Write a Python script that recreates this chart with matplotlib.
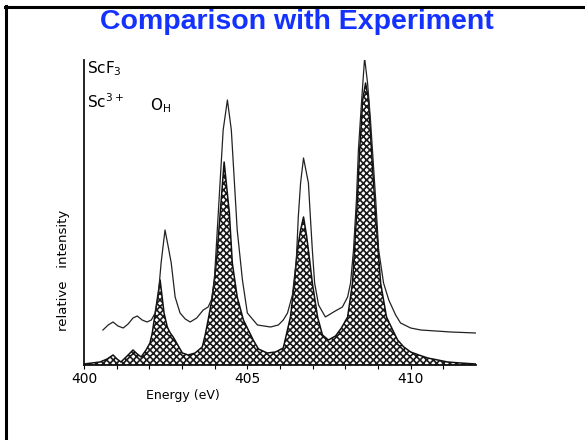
import matplotlib
matplotlib.use("Agg")
import matplotlib.pyplot as plt
from matplotlib.lines import Line2D

# ---- data (energy in eV, relative intensity in arbitrary units) ----
exp_energy = [400.58, 400.74, 400.89, 401.04, 401.20, 401.35, 401.50, 401.63, 401.78, 401.93,
              402.06, 402.18, 402.27, 402.36, 402.48, 402.58, 402.67, 402.79, 402.94, 403.10,
              403.25, 403.45, 403.65, 403.80, 403.90, 403.99, 404.08, 404.17, 404.26, 404.39,
              404.51, 404.60, 404.69, 404.85, 405.00, 405.31, 405.71, 405.95, 406.10, 406.23,
              406.38, 406.50, 406.56, 406.63, 406.72, 406.87, 406.93, 406.99, 407.06, 407.18,
              407.39, 407.64, 407.91, 408.07, 408.16, 408.25, 408.34, 408.40, 408.50, 408.59,
              408.68, 408.77, 408.83, 408.93, 409.02, 409.17, 409.33, 409.54, 409.69, 410.00,
              410.31, 410.77, 411.23, 411.99]
exp_intensity = [35, 40, 43, 39, 37, 41, 47, 49, 45, 43,
                 45, 52, 68, 102, 135, 118, 102, 68, 52, 46,
                 43, 47, 55, 58, 65, 85, 135, 185, 235, 265,
                 235, 185, 135, 85, 52, 40, 38, 40, 45, 52,
                 70, 105, 148, 182, 207, 182, 148, 115, 82, 60,
                 48, 53, 58, 68, 82, 115, 165, 215, 265, 307,
                 282, 245, 215, 165, 115, 82, 65, 50, 42, 37,
                 35, 34, 33, 32]

calc_energy = [400.00, 400.49, 400.71, 400.89, 401.01, 401.13, 401.32, 401.50, 401.63, 401.75,
               401.90, 402.02, 402.09, 402.18, 402.33, 402.45, 402.55, 402.64, 402.73, 402.87,
               403.01, 403.19, 403.40, 403.62, 403.71, 403.80, 403.93, 404.05, 404.17, 404.29,
               404.45, 404.54, 404.69, 404.88, 405.18, 405.34, 405.61, 405.86, 406.10, 406.32,
               406.44, 406.53, 406.63, 406.72, 406.81, 406.87, 406.99, 407.15, 407.30, 407.48,
               407.70, 407.88, 408.07, 408.22, 408.34, 408.44, 408.53, 408.62, 408.71, 408.80,
               408.93, 409.08, 409.26, 409.45, 409.60, 409.79, 410.00, 410.25, 410.52, 410.83,
               411.13, 411.53, 411.99]
calc_intensity = [1, 3, 6, 10, 6, 3, 9, 15, 11, 8,
                  15, 22, 32, 52, 85, 52, 38, 32, 28, 20,
                  12, 10, 12, 18, 30, 45, 68, 102, 152, 203,
                  152, 102, 68, 45, 25, 16, 12, 13, 17, 48,
                  82, 115, 135, 148, 130, 115, 82, 48, 30, 25,
                  29, 37, 48, 82, 148, 215, 265, 282, 265, 215,
                  148, 82, 48, 35, 25, 18, 13, 10, 7, 5,
                  3, 2, 1]

major_ticks = [400, 405, 410]
minor_ticks = [401, 402, 403, 404, 406, 407, 408, 409, 411]
tick_labels = ["400", "405", "410"]

W, H = 585, 440
fig = plt.figure(figsize=(W / 100, H / 100), dpi=100)
fig.patch.set_facecolor("white")

plt.rcParams["hatch.linewidth"] = 1.2

# axes placement (pixels -> figure fraction)
left, right, bottom, top = 84, 476, 365, 60
ax = fig.add_axes([left / W, 1 - bottom / H, (right - left) / W, (bottom - top) / H])
ax.set_xlim(400, 412)
ax.set_ylim(0, 305)

ax.fill_between(calc_energy, 0, calc_intensity, facecolor="white", edgecolor="#1a1a1a",
                hatch="xxxxx", linewidth=0)
ax.plot(calc_energy, calc_intensity, color="#111111", lw=1.1)
ax.plot(exp_energy, exp_intensity, color="#222222", lw=0.9)

for s in ["top", "right"]:
    ax.spines[s].set_visible(False)
for s in ["left", "bottom"]:
    ax.spines[s].set_linewidth(1.3)
    ax.spines[s].set_color("#111111")

ax.set_xticks(major_ticks)
ax.set_xticklabels(tick_labels, fontsize=10, family="DejaVu Sans")
ax.set_xticks(minor_ticks, minor=True)
ax.tick_params(axis="x", which="both", direction="out", length=3, width=0.8, pad=2)
ax.set_yticks([])

# texts
fig.text(297 / W, 1 - 22 / H, "Comparison with Experiment", ha="center", va="center",
         fontsize=20.5, fontweight="bold", color="#1432ff", family="Liberation Sans")
fig.text(87 / W, 1 - 73 / H, r"ScF$_3$", ha="left", va="baseline", fontsize=11,
         family="DejaVu Sans")
fig.text(87 / W, 1 - 108 / H, r"Sc$^{3+}$", ha="left", va="baseline", fontsize=11,
         family="DejaVu Sans")
fig.text(150 / W, 1 - 110 / H, r"O$_\mathregular{H}$", ha="left", va="baseline", fontsize=11,
         family="DejaVu Sans")
fig.text(63 / W, 1 - 270 / H, "relative   intensity", ha="center", va="center", rotation=90,
         fontsize=9.5, family="DejaVu Sans")
fig.text(183 / W, 1 - 395 / H, "Energy (eV)", ha="center", va="center", fontsize=9,
         family="DejaVu Sans")

# slide border (top and left)
fig.add_artist(Line2D([5 / W, 1], [1 - 7 / H, 1 - 7 / H], color="black", lw=2.2,
                      transform=fig.transFigure))
fig.add_artist(Line2D([6 / W, 6 / W], [0, 1 - 6 / H], color="black", lw=2.2,
                      transform=fig.transFigure))

fig.savefig("out.png", dpi=100, facecolor="white")
